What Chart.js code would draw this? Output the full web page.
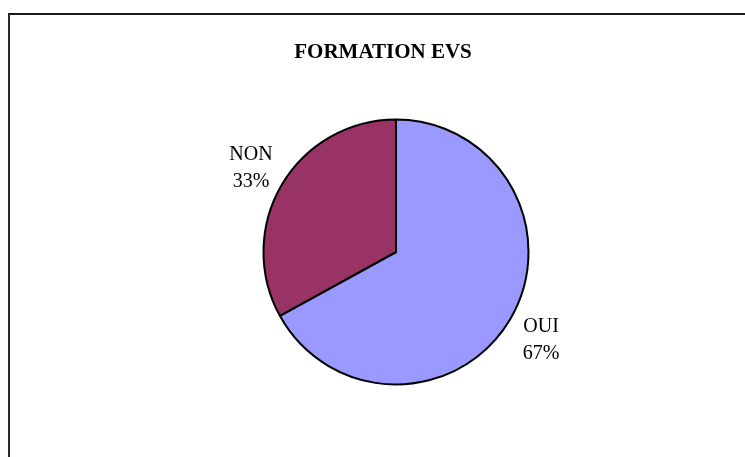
<!DOCTYPE html>
<html>
<head>
<meta charset="utf-8">
<script src="https://cdn.jsdelivr.net/npm/chart.js@4/dist/chart.umd.min.js"></script>
<style>
  html, body { margin:0; padding:0; background:#fff; }
  #wrap { position:relative; width:745px; height:457px; overflow:hidden; }
  #frame { position:absolute; left:8px; top:13px; width:800px; height:500px;
           border-top:2px solid #1c1c1c; border-left:2px solid #2a2a2a; }
  #c { position:absolute; left:0; top:0; }
</style>
</head>
<body>
<div id="wrap">
  <div id="frame"></div>
  <canvas id="c" width="745" height="457"></canvas>
</div>
<script>
// donnees du graphique
const titre = "FORMATION EVS";
const categories = ["OUI", "NON"];
const valeurs = [67, 33];
const couleurs = ["#9999FF", "#993366"];

// titre dessine a la main (centre un peu a gauche du camembert, comme l'original)
const titrePlugin = {
  id: "titreEvs",
  afterDraw(chart){
    const ctx = chart.ctx;
    ctx.save();
    ctx.font = "bold 21px 'Liberation Serif', 'Times New Roman', serif";
    ctx.fillStyle = "#000";
    ctx.textAlign = "center";
    ctx.textBaseline = "alphabetic";
    ctx.fillText(titre, 383, 58);
    ctx.restore();
  }
};

// etiquettes "NOM / xx%" a l'exterieur de chaque part
const etiquettes = {
  id: "etiquettes",
  afterDatasetsDraw(chart){
    const ctx = chart.ctx;
    const meta = chart.getDatasetMeta(0);
    const total = valeurs.reduce((s,v)=>s+v, 0);
    ctx.save();
    ctx.font = "20px 'Liberation Serif', 'Times New Roman', serif";
    ctx.fillStyle = "#000";
    ctx.textAlign = "center";
    ctx.textBaseline = "alphabetic";
    meta.data.forEach((arc, i)=>{
      const p = arc.getProps(["x","y","startAngle","endAngle","outerRadius"], true);
      const mid = (p.startAngle + p.endAngle) / 2;
      const d = p.outerRadius + 36;
      const cx = p.x + Math.cos(mid) * d;
      const cy = p.y + Math.sin(mid) * d;
      const pct = Math.round(valeurs[i] / total * 100) + "%";
      ctx.fillText(categories[i], cx, cy - 6);
      ctx.fillText(pct, cx, cy + 21);
    });
    ctx.restore();
  }
};

new Chart(document.getElementById("c"), {
  type: "pie",
  data: {
    labels: categories,
    datasets: [{
      data: valeurs,
      backgroundColor: couleurs,
      borderColor: "#000",
      borderWidth: 2
    }]
  },
  options: {
    responsive: false,
    animation: false,
    rotation: 0,
    layout: { padding: { left: 47, right: 0, top: 118.5, bottom: 71.5 } },
    plugins: {
      legend: { display: false },
      title: { display: false },
      tooltip: { enabled: false }
    }
  },
  plugins: [titrePlugin, etiquettes]
});
</script>
</body>
</html>
